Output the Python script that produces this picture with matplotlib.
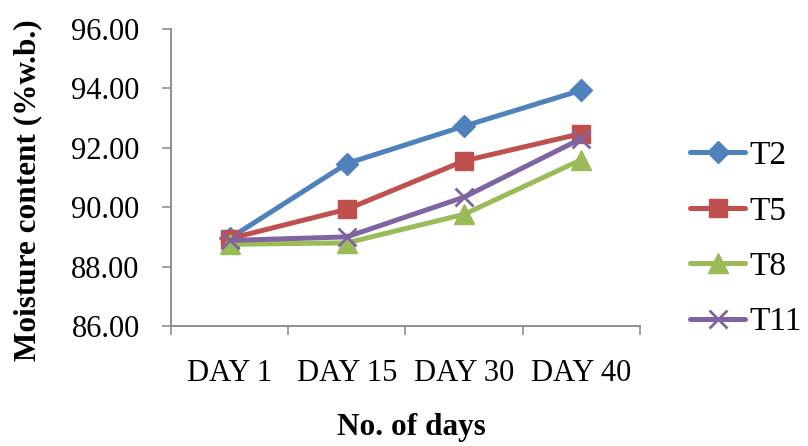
import matplotlib
matplotlib.use("Agg")
import matplotlib.pyplot as plt

# moisture content over storage time, one series per treatment
days = ["DAY 1", "DAY 15", "DAY 30", "DAY 40"]
t2 = [88.95, 91.47, 92.73, 93.94]
t5 = [88.94, 89.93, 91.56, 92.48]
t8 = [88.75, 88.80, 89.76, 91.60]
t11 = [88.88, 89.00, 90.34, 92.31]

series = [
    ("T2", t2, "#4F81BD", "D", 11),
    ("T5", t5, "#C0504D", "s", 13),
    ("T8", t8, "#9BBB59", "^", 14),
    ("T11", t11, "#8064A2", "x", 13),
]

plt.rcParams["font.family"] = ["Liberation Serif", "DejaVu Serif"]
AX = "#868686"

fig = plt.figure(figsize=(8.08, 4.46), dpi=100)
ax = fig.add_axes([171 / 808, 1 - 326 / 446, (640 - 171) / 808, (326 - 29) / 446])

x = list(range(len(days)))
for name, vals, col, mk, ms in series:
    ax.plot(x, vals, color=col, lw=3.6, marker=mk, ms=ms, mfc=col, mec=col,
            mew=2 if mk == "x" else 1, label=name, solid_capstyle="round")

ax.set_ylim(86, 96)
ax.set_yticks([86, 88, 90, 92, 94, 96])
ax.set_yticklabels([f"{v:.2f}" for v in [86, 88, 90, 92, 94, 96]])
ax.set_xlim(-0.5, len(days) - 0.5)
# boundary ticks between categories, labels centred on categories
ax.set_xticks([i - 0.5 for i in range(len(days) + 1)])
ax.set_xticklabels([])
ax.set_xticks(x, minor=True)
ax.set_xticklabels(days, minor=True)

for s in ["top", "right"]:
    ax.spines[s].set_visible(False)
for s in ["left", "bottom"]:
    ax.spines[s].set_color(AX)
    ax.spines[s].set_linewidth(1.3)
ax.tick_params(axis="y", direction="out", length=6.5, width=1.1, color=AX,
               labelsize=22, pad=16)
ax.tick_params(axis="x", which="major", direction="out", length=6.5, width=1.1, color=AX)
ax.tick_params(axis="x", which="minor", length=0, labelsize=22, pad=24)

fig.text(411 / 808, 1 - 428 / 446, "No. of days", ha="center", va="center",
         fontsize=22.5, fontweight="bold")
fig.text(28 / 808, 1 - 190 / 446, "Moisture content (%w.b.)", ha="center", va="center",
         rotation=90, fontsize=22.5, fontweight="bold")

leg = ax.legend(loc="center left", bbox_to_anchor=(690 / 808, 1 - 239 / 446),
                bbox_transform=fig.transFigure, frameon=False, fontsize=24,
                handlelength=1.65, handletextpad=0.12, labelspacing=0.75,
                borderpad=0, borderaxespad=0)

fig.savefig("out.png", dpi=100)
